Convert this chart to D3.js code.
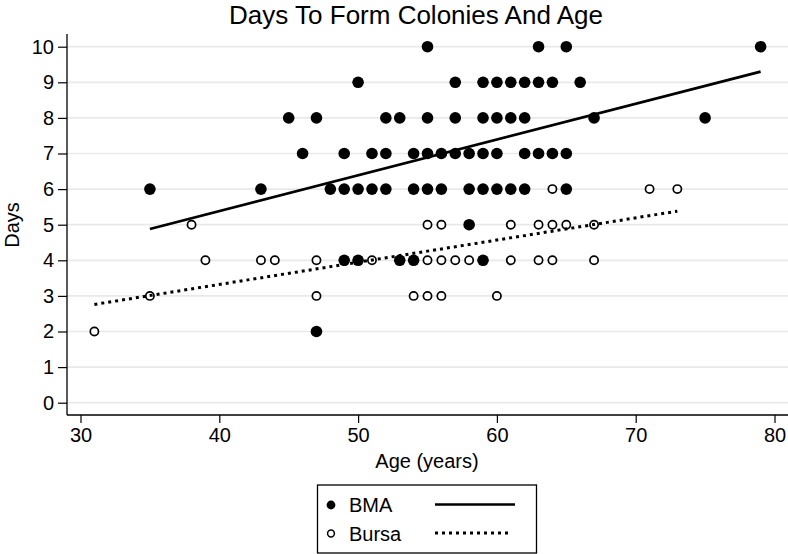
<!DOCTYPE html>
<html>
<head>
<meta charset="utf-8">
<script src="https://cdn.jsdelivr.net/npm/d3@7"></script>
<style>
  html, body { margin: 0; padding: 0; background: #fff; }
  svg { display: block; font-family: "Liberation Sans", Arial, Helvetica, sans-serif; }
</style>
</head>
<body>
<svg id="chart" width="788" height="554"></svg>
<script>
// ---- Data ----
const chartTitle = "Days To Form Colonies And Age";
const xLabel = "Age (years)";
const yLabel = "Days";
const xTicks = [30, 40, 50, 60, 70, 80];
const yTicks = [0, 1, 2, 3, 4, 5, 6, 7, 8, 9, 10];
const seriesNames = ["BMA", "Bursa"];

const bmaAge = [
  55, 63, 65, 79,
  50, 57, 59, 60, 61, 62, 63, 64, 66,
  45, 47, 52, 53, 55, 57, 59, 60, 61, 62, 67, 75,
  46, 49, 51, 52, 54, 55, 56, 57, 58, 59, 60, 62, 63, 64, 65,
  35, 43, 48, 49, 50, 51, 52, 54, 55, 56, 58, 59, 60, 61, 62, 65,
  58,
  49, 50, 53, 54, 59,
  47
];
const bmaDays = [
  10, 10, 10, 10,
  9, 9, 9, 9, 9, 9, 9, 9, 9,
  8, 8, 8, 8, 8, 8, 8, 8, 8, 8, 8, 8,
  7, 7, 7, 7, 7, 7, 7, 7, 7, 7, 7, 7, 7, 7, 7,
  6, 6, 6, 6, 6, 6, 6, 6, 6, 6, 6, 6, 6, 6, 6, 6,
  5,
  4, 4, 4, 4, 4,
  2
];
const bursaAge = [
  64, 71, 73,
  38, 55, 56, 61, 63, 64, 65, 67,
  39, 43, 44, 47, 51, 55, 56, 57, 58, 61, 63, 64, 67,
  35, 47, 54, 55, 56, 60,
  31
];
const bursaDays = [
  6, 6, 6,
  5, 5, 5, 5, 5, 5, 5, 5,
  4, 4, 4, 4, 4, 4, 4, 4, 4, 4, 4, 4, 4,
  3, 3, 3, 3, 3, 3,
  2
];
// Linear fit endpoints (as drawn in the reference)
const bmaFitAge = [35, 79];
const bmaFitDays = [4.88, 9.30];
const bursaFitAge = [31, 73];
const bursaFitDays = [2.76, 5.38];

// ---- Layout ----
const svg = d3.select("#chart");
const plotLeft = 67, plotRight = 788, plotTop = 34, plotBottom = 415;

const x = d3.scaleLinear().domain([30, 80]).range([80.5, 774.5]);
const y = d3.scaleLinear().domain([0, 10]).range([402.7, 46.7]);

// Gridlines
svg.append("g")
  .selectAll("line")
  .data(yTicks)
  .join("line")
  .attr("x1", plotLeft).attr("x2", plotRight)
  .attr("y1", d => y(d)).attr("y2", d => y(d))
  .attr("stroke", "#e9e9e9")
  .attr("stroke-width", 1.7);

// Axes
const yAxis = svg.append("g")
  .attr("transform", `translate(${plotLeft},0)`)
  .call(d3.axisLeft(y).tickValues(yTicks).tickSize(9).tickSizeOuter(0).tickPadding(4).tickFormat(d3.format("d")));
yAxis.select(".domain").remove();
yAxis.selectAll("line").attr("stroke", "#000").attr("stroke-width", 1.2);
yAxis.selectAll("text").attr("font-size", 20).attr("fill", "#000")
  .attr("font-family", "'Liberation Sans', Arial, sans-serif");

const xAxis = svg.append("g")
  .attr("transform", `translate(0,${plotBottom})`)
  .call(d3.axisBottom(x).tickValues(xTicks).tickSize(8).tickSizeOuter(0).tickPadding(5).tickFormat(d3.format("d")));
xAxis.select(".domain").remove();
xAxis.selectAll("line").attr("stroke", "#000").attr("stroke-width", 1.2);
xAxis.selectAll("text").attr("font-size", 20).attr("fill", "#000")
  .attr("font-family", "'Liberation Sans', Arial, sans-serif");

// Axis lines
svg.append("line")
  .attr("x1", plotLeft).attr("x2", plotLeft)
  .attr("y1", plotTop).attr("y2", plotBottom)
  .attr("stroke", "#000").attr("stroke-width", 1.3);
svg.append("line")
  .attr("x1", plotLeft).attr("x2", plotRight)
  .attr("y1", plotBottom).attr("y2", plotBottom)
  .attr("stroke", "#000").attr("stroke-width", 1.3);

// Points
const bmaPts = bmaAge.map((a, i) => ({ age: a, days: bmaDays[i] }));
const bursaPts = bursaAge.map((a, i) => ({ age: a, days: bursaDays[i] }));

svg.append("g")
  .selectAll("circle")
  .data(bmaPts)
  .join("circle")
  .attr("cx", d => x(d.age))
  .attr("cy", d => y(d.days))
  .attr("r", 5.8)
  .attr("fill", "#000");

svg.append("g")
  .selectAll("circle")
  .data(bursaPts)
  .join("circle")
  .attr("cx", d => x(d.age))
  .attr("cy", d => y(d.days))
  .attr("r", 4.1)
  .attr("fill", "#fff")
  .attr("stroke", "#000")
  .attr("stroke-width", 1.7);

// Fit lines
const lineGen = d3.line().x(d => x(d[0])).y(d => y(d[1]));
svg.append("path")
  .datum(bmaFitAge.map((a, i) => [a, bmaFitDays[i]]))
  .attr("d", lineGen)
  .attr("fill", "none")
  .attr("stroke", "#000")
  .attr("stroke-width", 2.7);
svg.append("path")
  .datum(bursaFitAge.map((a, i) => [a, bursaFitDays[i]]))
  .attr("d", lineGen)
  .attr("fill", "none")
  .attr("stroke", "#000")
  .attr("stroke-width", 3)
  .attr("stroke-dasharray", "3,4");

// Title and axis titles
svg.append("text")
  .attr("x", 416).attr("y", 24)
  .attr("text-anchor", "middle")
  .attr("font-size", 26)
  .text(chartTitle);

svg.append("text")
  .attr("x", 427).attr("y", 468)
  .attr("text-anchor", "middle")
  .attr("font-size", 20)
  .text(xLabel);

svg.append("text")
  .attr("transform", "translate(18.5,225) rotate(-90)")
  .attr("text-anchor", "middle")
  .attr("font-size", 20)
  .text(yLabel);

// Legend
const lg = svg.append("g");
lg.append("rect")
  .attr("x", 317.5).attr("y", 485)
  .attr("width", 219).attr("height", 68)
  .attr("fill", "#fff")
  .attr("stroke", "#000")
  .attr("stroke-width", 1.3);

const legendRows = [
  { name: seriesNames[0], cy: 505, filled: true, dash: null },
  { name: seriesNames[1], cy: 533.5, filled: false, dash: "3,4" }
];
legendRows.forEach(r => {
  if (r.filled) {
    lg.append("circle").attr("cx", 331).attr("cy", r.cy).attr("r", 4.4).attr("fill", "#000");
  } else {
    lg.append("circle").attr("cx", 331).attr("cy", r.cy).attr("r", 3.4)
      .attr("fill", "#fff").attr("stroke", "#000").attr("stroke-width", 1.5);
  }
  lg.append("text")
    .attr("x", 349).attr("y", r.cy + 7)
    .attr("font-size", 20)
    .text(r.name);
  const ln = lg.append("line")
    .attr("x1", 435).attr("x2", r.dash ? 512 : 515)
    .attr("y1", r.cy - 0.5).attr("y2", r.cy - 0.5)
    .attr("stroke", "#000")
    .attr("stroke-width", r.dash ? 3 : 2.7);
  if (r.dash) ln.attr("stroke-dasharray", r.dash);
});
</script>
</body>
</html>
